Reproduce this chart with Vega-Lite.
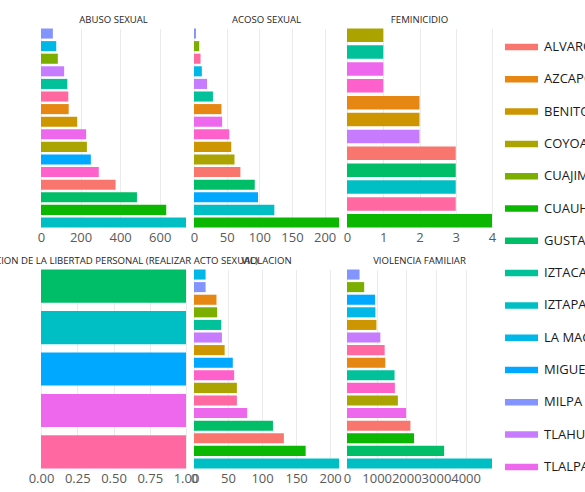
{
  "$schema": "https://vega.github.io/schema/vega-lite/v6.json",
  "padding": {"left": -32, "top": 14.5, "right": 0, "bottom": 0},
  "bounds": "flush",
  "background": "white",
  "datasets": {
    "casos": [
      {"delito": "ABUSO SEXUAL", "alcaldia": "ALVARO OBREGON", "casos": 377},
      {"delito": "ABUSO SEXUAL", "alcaldia": "AZCAPOTZALCO", "casos": 140},
      {"delito": "ABUSO SEXUAL", "alcaldia": "BENITO JUAREZ", "casos": 183},
      {"delito": "ABUSO SEXUAL", "alcaldia": "COYOACAN", "casos": 232},
      {"delito": "ABUSO SEXUAL", "alcaldia": "CUAJIMALPA DE MORELOS", "casos": 85},
      {"delito": "ABUSO SEXUAL", "alcaldia": "CUAUHTEMOC", "casos": 633},
      {"delito": "ABUSO SEXUAL", "alcaldia": "GUSTAVO A. MADERO", "casos": 485},
      {"delito": "ABUSO SEXUAL", "alcaldia": "IZTACALCO", "casos": 133},
      {"delito": "ABUSO SEXUAL", "alcaldia": "IZTAPALAPA", "casos": 733},
      {"delito": "ABUSO SEXUAL", "alcaldia": "LA MAGDALENA CONTRERAS", "casos": 77},
      {"delito": "ABUSO SEXUAL", "alcaldia": "MIGUEL HIDALGO", "casos": 252},
      {"delito": "ABUSO SEXUAL", "alcaldia": "MILPA ALTA", "casos": 60},
      {"delito": "ABUSO SEXUAL", "alcaldia": "TLAHUAC", "casos": 117},
      {"delito": "ABUSO SEXUAL", "alcaldia": "TLALPAN", "casos": 228},
      {"delito": "ABUSO SEXUAL", "alcaldia": "VENUSTIANO CARRANZA", "casos": 292},
      {"delito": "ABUSO SEXUAL", "alcaldia": "XOCHIMILCO", "casos": 138},
      {"delito": "ACOSO SEXUAL", "alcaldia": "ALVARO OBREGON", "casos": 71},
      {"delito": "ACOSO SEXUAL", "alcaldia": "AZCAPOTZALCO", "casos": 42},
      {"delito": "ACOSO SEXUAL", "alcaldia": "BENITO JUAREZ", "casos": 57},
      {"delito": "ACOSO SEXUAL", "alcaldia": "COYOACAN", "casos": 62},
      {"delito": "ACOSO SEXUAL", "alcaldia": "CUAJIMALPA DE MORELOS", "casos": 8},
      {"delito": "ACOSO SEXUAL", "alcaldia": "CUAUHTEMOC", "casos": 222},
      {"delito": "ACOSO SEXUAL", "alcaldia": "GUSTAVO A. MADERO", "casos": 93},
      {"delito": "ACOSO SEXUAL", "alcaldia": "IZTACALCO", "casos": 29},
      {"delito": "ACOSO SEXUAL", "alcaldia": "IZTAPALAPA", "casos": 123},
      {"delito": "ACOSO SEXUAL", "alcaldia": "LA MAGDALENA CONTRERAS", "casos": 12},
      {"delito": "ACOSO SEXUAL", "alcaldia": "MIGUEL HIDALGO", "casos": 98},
      {"delito": "ACOSO SEXUAL", "alcaldia": "MILPA ALTA", "casos": 3},
      {"delito": "ACOSO SEXUAL", "alcaldia": "TLAHUAC", "casos": 20},
      {"delito": "ACOSO SEXUAL", "alcaldia": "TLALPAN", "casos": 43},
      {"delito": "ACOSO SEXUAL", "alcaldia": "VENUSTIANO CARRANZA", "casos": 54},
      {"delito": "ACOSO SEXUAL", "alcaldia": "XOCHIMILCO", "casos": 10},
      {"delito": "FEMINICIDIO", "alcaldia": "ALVARO OBREGON", "casos": 3},
      {"delito": "FEMINICIDIO", "alcaldia": "AZCAPOTZALCO", "casos": 2},
      {"delito": "FEMINICIDIO", "alcaldia": "BENITO JUAREZ", "casos": 2},
      {"delito": "FEMINICIDIO", "alcaldia": "COYOACAN", "casos": 1},
      {"delito": "FEMINICIDIO", "alcaldia": "CUAUHTEMOC", "casos": 4},
      {"delito": "FEMINICIDIO", "alcaldia": "GUSTAVO A. MADERO", "casos": 3},
      {"delito": "FEMINICIDIO", "alcaldia": "IZTACALCO", "casos": 1},
      {"delito": "FEMINICIDIO", "alcaldia": "IZTAPALAPA", "casos": 3},
      {"delito": "FEMINICIDIO", "alcaldia": "TLAHUAC", "casos": 2},
      {"delito": "FEMINICIDIO", "alcaldia": "TLALPAN", "casos": 1},
      {"delito": "FEMINICIDIO", "alcaldia": "VENUSTIANO CARRANZA", "casos": 1},
      {"delito": "FEMINICIDIO", "alcaldia": "XOCHIMILCO", "casos": 3},
      {"delito": "PRIVACION DE LA LIBERTAD PERSONAL (REALIZAR ACTO SEXUAL)", "alcaldia": "GUSTAVO A. MADERO", "casos": 1},
      {"delito": "PRIVACION DE LA LIBERTAD PERSONAL (REALIZAR ACTO SEXUAL)", "alcaldia": "IZTAPALAPA", "casos": 1},
      {"delito": "PRIVACION DE LA LIBERTAD PERSONAL (REALIZAR ACTO SEXUAL)", "alcaldia": "MIGUEL HIDALGO", "casos": 1},
      {"delito": "PRIVACION DE LA LIBERTAD PERSONAL (REALIZAR ACTO SEXUAL)", "alcaldia": "TLALPAN", "casos": 1},
      {"delito": "PRIVACION DE LA LIBERTAD PERSONAL (REALIZAR ACTO SEXUAL)", "alcaldia": "XOCHIMILCO", "casos": 1},
      {"delito": "VIOLACION", "alcaldia": "ALVARO OBREGON", "casos": 132},
      {"delito": "VIOLACION", "alcaldia": "AZCAPOTZALCO", "casos": 33},
      {"delito": "VIOLACION", "alcaldia": "BENITO JUAREZ", "casos": 45},
      {"delito": "VIOLACION", "alcaldia": "COYOACAN", "casos": 63},
      {"delito": "VIOLACION", "alcaldia": "CUAJIMALPA DE MORELOS", "casos": 34},
      {"delito": "VIOLACION", "alcaldia": "CUAUHTEMOC", "casos": 164},
      {"delito": "VIOLACION", "alcaldia": "GUSTAVO A. MADERO", "casos": 116},
      {"delito": "VIOLACION", "alcaldia": "IZTACALCO", "casos": 40},
      {"delito": "VIOLACION", "alcaldia": "IZTAPALAPA", "casos": 213},
      {"delito": "VIOLACION", "alcaldia": "LA MAGDALENA CONTRERAS", "casos": 17},
      {"delito": "VIOLACION", "alcaldia": "MIGUEL HIDALGO", "casos": 57},
      {"delito": "VIOLACION", "alcaldia": "MILPA ALTA", "casos": 17},
      {"delito": "VIOLACION", "alcaldia": "TLAHUAC", "casos": 41},
      {"delito": "VIOLACION", "alcaldia": "TLALPAN", "casos": 78},
      {"delito": "VIOLACION", "alcaldia": "VENUSTIANO CARRANZA", "casos": 59},
      {"delito": "VIOLACION", "alcaldia": "XOCHIMILCO", "casos": 63},
      {"delito": "VIOLENCIA FAMILIAR", "alcaldia": "ALVARO OBREGON", "casos": 2139},
      {"delito": "VIOLENCIA FAMILIAR", "alcaldia": "AZCAPOTZALCO", "casos": 1292},
      {"delito": "VIOLENCIA FAMILIAR", "alcaldia": "BENITO JUAREZ", "casos": 992},
      {"delito": "VIOLENCIA FAMILIAR", "alcaldia": "COYOACAN", "casos": 1716},
      {"delito": "VIOLENCIA FAMILIAR", "alcaldia": "CUAJIMALPA DE MORELOS", "casos": 580},
      {"delito": "VIOLENCIA FAMILIAR", "alcaldia": "CUAUHTEMOC", "casos": 2262},
      {"delito": "VIOLENCIA FAMILIAR", "alcaldia": "GUSTAVO A. MADERO", "casos": 3276},
      {"delito": "VIOLENCIA FAMILIAR", "alcaldia": "IZTACALCO", "casos": 1604},
      {"delito": "VIOLENCIA FAMILIAR", "alcaldia": "IZTAPALAPA", "casos": 4891},
      {"delito": "VIOLENCIA FAMILIAR", "alcaldia": "LA MAGDALENA CONTRERAS", "casos": 958},
      {"delito": "VIOLENCIA FAMILIAR", "alcaldia": "MIGUEL HIDALGO", "casos": 945},
      {"delito": "VIOLENCIA FAMILIAR", "alcaldia": "MILPA ALTA", "casos": 423},
      {"delito": "VIOLENCIA FAMILIAR", "alcaldia": "TLAHUAC", "casos": 1125},
      {"delito": "VIOLENCIA FAMILIAR", "alcaldia": "TLALPAN", "casos": 1994},
      {"delito": "VIOLENCIA FAMILIAR", "alcaldia": "VENUSTIANO CARRANZA", "casos": 1615},
      {"delito": "VIOLENCIA FAMILIAR", "alcaldia": "XOCHIMILCO", "casos": 1270}
    ]
  },
  "data": {"name": "casos"},
  "columns": 3,
  "spacing": {"row": 42, "column": 8},
  "concat": [
    {
      "title": "ABUSO SEXUAL",
      "width": 145, "height": 199,
      "transform": [{"filter": "datum.delito === 'ABUSO SEXUAL'"}],
      "mark": "bar",
      "encoding": {
        "y": {"field": "alcaldia", "type": "nominal", "sort": {"field": "casos", "op": "sum", "order": "ascending"}, "axis": null, "scale": {"paddingInner": 0.2, "paddingOuter": 0}},
        "x": {"field": "casos", "type": "quantitative", "scale": {"nice": false, "zero": true}, "axis": {"values": [0, 200, 400, 600], "format": "d"}},
        "color": {"field": "alcaldia", "type": "nominal", "scale": {"domain": ["ALVARO OBREGON", "AZCAPOTZALCO", "BENITO JUAREZ", "COYOACAN", "CUAJIMALPA DE MORELOS", "CUAUHTEMOC", "GUSTAVO A. MADERO", "IZTACALCO", "IZTAPALAPA", "LA MAGDALENA CONTRERAS", "MIGUEL HIDALGO", "MILPA ALTA", "TLAHUAC", "TLALPAN", "VENUSTIANO CARRANZA", "XOCHIMILCO"], "range": ["#F8766D", "#E68613", "#CD9600", "#ABA300", "#7CAE00", "#0CB702", "#00BE67", "#00C19A", "#00BFC4", "#00B8E7", "#00A9FF", "#8494FF", "#C77CFF", "#ED68ED", "#FF61CC", "#FF68A1"]}, "legend": {"title": null}}
      }
    },
    {
      "title": "ACOSO SEXUAL",
      "width": 145, "height": 199,
      "transform": [{"filter": "datum.delito === 'ACOSO SEXUAL'"}],
      "mark": "bar",
      "encoding": {
        "y": {"field": "alcaldia", "type": "nominal", "sort": {"field": "casos", "op": "sum", "order": "ascending"}, "axis": null, "scale": {"paddingInner": 0.2, "paddingOuter": 0}},
        "x": {"field": "casos", "type": "quantitative", "scale": {"nice": false, "zero": true}, "axis": {"values": [0, 50, 100, 150, 200], "format": "d"}},
        "color": {"field": "alcaldia", "type": "nominal", "legend": {"title": null}}
      }
    },
    {
      "title": "FEMINICIDIO",
      "width": 145, "height": 199,
      "transform": [{"filter": "datum.delito === 'FEMINICIDIO'"}],
      "mark": "bar",
      "encoding": {
        "y": {"field": "alcaldia", "type": "nominal", "sort": {"field": "casos", "op": "sum", "order": "ascending"}, "axis": null, "scale": {"paddingInner": 0.2, "paddingOuter": 0}},
        "x": {"field": "casos", "type": "quantitative", "scale": {"nice": false, "zero": true}, "axis": {"values": [0, 1, 2, 3, 4], "format": "d"}},
        "color": {"field": "alcaldia", "type": "nominal", "legend": {"title": null}}
      }
    },
    {
      "title": "PRIVACION DE LA LIBERTAD PERSONAL (REALIZAR ACTO SEXUAL)",
      "width": 145, "height": 199,
      "transform": [{"filter": "datum.delito === 'PRIVACION DE LA LIBERTAD PERSONAL (REALIZAR ACTO SEXUAL)'"}],
      "mark": "bar",
      "encoding": {
        "y": {"field": "alcaldia", "type": "nominal", "sort": {"field": "casos", "op": "sum", "order": "ascending"}, "axis": null, "scale": {"paddingInner": 0.2, "paddingOuter": 0}},
        "x": {"field": "casos", "type": "quantitative", "scale": {"nice": false, "zero": true}, "axis": {"values": [0, 0.25, 0.5, 0.75, 1], "format": ".2f"}},
        "color": {"field": "alcaldia", "type": "nominal", "legend": {"title": null}}
      }
    },
    {
      "title": "VIOLACION",
      "width": 145, "height": 199,
      "transform": [{"filter": "datum.delito === 'VIOLACION'"}],
      "mark": "bar",
      "encoding": {
        "y": {"field": "alcaldia", "type": "nominal", "sort": {"field": "casos", "op": "sum", "order": "ascending"}, "axis": null, "scale": {"paddingInner": 0.2, "paddingOuter": 0}},
        "x": {"field": "casos", "type": "quantitative", "scale": {"nice": false, "zero": true}, "axis": {"values": [0, 50, 100, 150, 200], "format": "d"}},
        "color": {"field": "alcaldia", "type": "nominal", "legend": {"title": null}}
      }
    },
    {
      "title": "VIOLENCIA FAMILIAR",
      "width": 145, "height": 199,
      "transform": [{"filter": "datum.delito === 'VIOLENCIA FAMILIAR'"}],
      "mark": "bar",
      "encoding": {
        "y": {"field": "alcaldia", "type": "nominal", "sort": {"field": "casos", "op": "sum", "order": "ascending"}, "axis": null, "scale": {"paddingInner": 0.2, "paddingOuter": 0}},
        "x": {"field": "casos", "type": "quantitative", "scale": {"nice": false, "zero": true}, "axis": {"values": [0, 1000, 2000, 3000, 4000], "format": "d"}},
        "color": {"field": "alcaldia", "type": "nominal", "legend": {"title": null}}
      }
    }
  ],
  "resolve": {"scale": {"x": "independent", "y": "independent", "color": "shared"}},
  "config": {
    "font": "Open Sans",
    "view": {"stroke": null},
    "title": {"font": "Open Sans", "fontSize": 9.6, "fontWeight": "normal", "color": "#262626", "offset": 4},
    "axis": {"labelFont": "Open Sans", "labelFontSize": 13, "labelColor": "#5A5A5A", "gridColor": "#EBEBEB", "gridWidth": 1, "domain": false, "ticks": false, "title": null, "labelPadding": 4, "labelFlush": false, "labelOverlap": false},
    "legend": {"orient": "right", "offset": 7, "padding": 2, "symbolType": "M-1.02,-0.2H1.02V0.2H-1.02Z", "symbolSize": 1050, "symbolStrokeWidth": 0, "symbolOpacity": 1, "labelFont": "Open Sans", "labelFontSize": 13, "labelColor": "#1A1A1A", "labelOffset": 6, "rowPadding": 8.3, "labelLimit": 400}
  }
}
